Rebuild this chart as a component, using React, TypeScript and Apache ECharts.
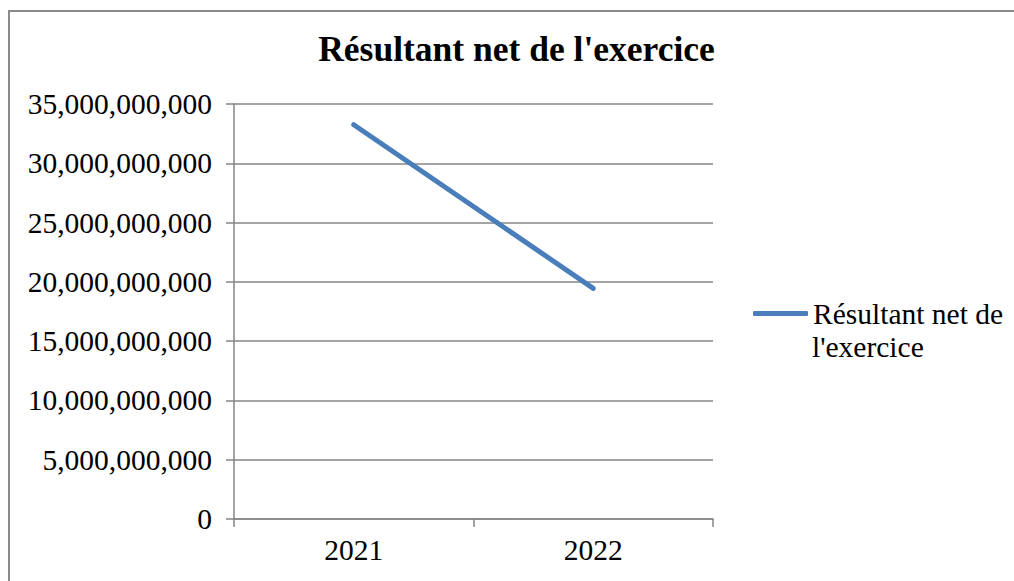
import React, { useEffect, useRef } from "react";
import * as echarts from "echarts";

const categories = ["2021", "2022"];
const seriesName = "Résultant net de l'exercice";
const legendLine1 = "Résultant net de";
const legendLine2 = "l'exercice";
const values = [33250000000, 19450000000];
const yMin = 0;
const yMax = 35000000000;
const yInterval = 5000000000;

const FONT = "Liberation Serif";
const FS = 29.5;

export default function App() {
  const ref = useRef<HTMLDivElement>(null);
  useEffect(() => {
    if (!ref.current) return;
    const chart = echarts.init(ref.current, null, { renderer: "svg" });
    const gray = "#868686";
    chart.setOption({
      animation: false,
      backgroundColor: "#ffffff",
      title: {
        text: "Résultant net de l'exercice",
        left: 516.5,
        textAlign: "center",
        top: 31,
        padding: 0,
        textStyle: { fontFamily: FONT, fontSize: 35.5, fontWeight: "bold", color: "#000" },
      },
      graphic: [
        {
          type: "rect",
          shape: { x: 9, y: 11, width: 1100, height: 700 },
          style: { fill: "none", stroke: "#8a8a8a", lineWidth: 2 },
          silent: true,
        },
        {
          type: "text",
          left: 812,
          top: 332,
          style: { text: legendLine2, font: `${FS}px Liberation Serif`, fill: "#000" },
          silent: true,
        },
      ],
      legend: {
        left: 753,
        top: 297,
        padding: 0,
        orient: "vertical",
        itemWidth: 55,
        itemHeight: 5,
        itemGap: 5,
        data: [{ name: seriesName, icon: "roundRect" }],
        formatter: () => legendLine1,
        textStyle: {
          fontFamily: FONT,
          fontSize: FS,
          color: "#000",
          lineHeight: 33,
        },
      },
      grid: { left: 234, right: 301, top: 104, bottom: 62, containLabel: false },
      xAxis: {
        type: "category",
        data: categories,
        boundaryGap: true,
        axisLine: { lineStyle: { color: gray, width: 1.5 } },
        axisTick: { show: true, length: 8, inside: false, lineStyle: { color: gray, width: 1.5 } },
        axisLabel: { fontFamily: FONT, fontSize: FS, color: "#000", margin: 16 },
        splitLine: { show: false },
      },
      yAxis: {
        type: "value",
        min: yMin,
        max: yMax,
        interval: yInterval,
        axisLine: { show: true, lineStyle: { color: gray, width: 1.5 } },
        axisTick: { show: true, length: 8, lineStyle: { color: gray, width: 1.5 } },
        axisLabel: {
          fontFamily: FONT,
          fontSize: FS,
          color: "#000",
          margin: 22,
          formatter: (v: number) => v.toLocaleString("en-US"),
        },
        splitLine: { show: true, lineStyle: { color: gray, width: 1.5 } },
      },
      series: [
        {
          name: seriesName,
          type: "line",
          data: values,
          symbol: "none",
          lineStyle: { color: "#4a7ebb", width: 5, cap: "round" },
          itemStyle: { color: "#4a7ebb" },
        },
      ],
    });
    return () => chart.dispose();
  }, []);
  return (
    <div
      ref={ref}
      style={{ position: "fixed", left: 0, top: 0, width: 1014, height: 581 }}
    />
  );
}
